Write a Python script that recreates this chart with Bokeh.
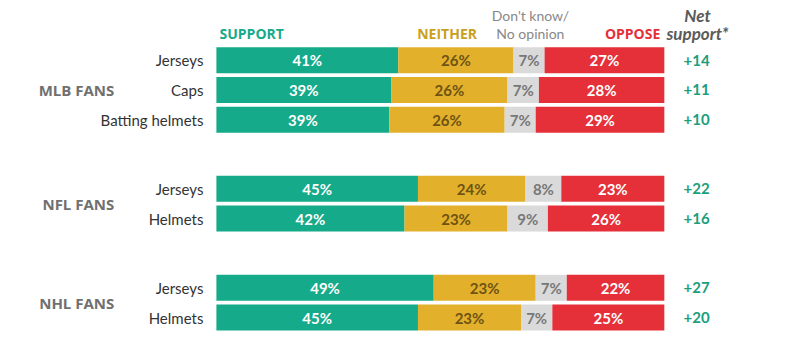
from bokeh.plotting import figure
from bokeh.models import ColumnDataSource, Range1d
from bokeh.core.properties import value
from bokeh.embed import file_html
from bokeh.resources import INLINE

groups = ["MLB FANS", "NFL FANS", "NHL FANS"]
group_of_row = [0, 0, 0, 1, 1, 2, 2]
items = ["Jerseys", "Caps", "Batting helmets", "Jerseys", "Helmets", "Jerseys", "Helmets"]
support = [41, 39, 39, 45, 42, 49, 45]
neither = [26, 26, 26, 24, 23, 23, 23]
dont_know = [7, 7, 7, 8, 9, 7, 7]
oppose = [27, 28, 29, 23, 26, 22, 25]
net_support = ["+14", "+11", "+10", "+22", "+16", "+27", "+20"]

series_names = ["SUPPORT", "NEITHER", "Don't know/\nNo opinion", "OPPOSE"]
series = [support, neither, dont_know, oppose]
fill_colors = ["#15aa89", "#e2b02b", "#dadada", "#e5303a"]
text_colors = ["#ffffff", "#6e5312", "#777777", "#ffffff"]

FONT = "Lato"
CAPS_FONT = "Open Sans"
GROUP_GAP = 1.33
BAR_H = 0.875

# layout positions of rows
ys = []
for i, g in enumerate(group_of_row):
    ys.append(i + g * GROUP_GAP)

W, H = 800, 350
p = figure(width=W, height=H, output_backend="svg", toolbar_location=None,
           x_range=Range1d(-48.2, 130.4), y_range=Range1d(9.77, -2.01),
           min_border=0, outline_line_color=None)
p.xaxis.visible = False
p.yaxis.visible = False
p.xgrid.visible = False
p.ygrid.visible = False
p.background_fill_color = "white"
p.border_fill_color = "white"

totals = [sum(s[i] for s in series) for i in range(len(items))]
cum = [0.0] * len(items)
for k, s in enumerate(series):
    left = [cum[i] for i in range(len(items))]
    right = [cum[i] + s[i] * 100.0 / totals[i] for i in range(len(items))]
    cum = right
    src = ColumnDataSource(dict(
        y=ys, left=left, right=right,
        mid=[(l + r) / 2 for l, r in zip(left, right)],
        label=[f"{v}%" for v in s]))
    p.hbar(y="y", left="left", right="right", height=BAR_H, source=src,
           fill_color=fill_colors[k], line_color=None)
    p.text(x="mid", y="y", text="label", source=src, text_align="center",
           text_baseline="middle", text_font=value(FONT), text_font_style="bold",
           text_font_size="15px", text_color=text_colors[k])

# row labels
p.text(x=[-2.9] * len(items), y=ys, text=items, text_align="right",
       text_baseline="middle", text_font=value(FONT), text_font_size="15px",
       text_color="#333333")

# group labels
gy = []
for g in range(len(groups)):
    rows = [ys[i] for i in range(len(items)) if group_of_row[i] == g]
    gy.append(sum(rows) / len(rows))
p.text(x=[-22.8] * len(groups), y=gy, text=groups, text_align="right",
       text_baseline="middle", text_font=value(CAPS_FONT), text_font_style="bold",
       text_font_size="15px", text_color="#707070")

# net support
p.text(x=[107.2] * len(items), y=ys, text=net_support, text_align="center",
       text_baseline="middle", text_font=value(FONT), text_font_style="bold",
       text_font_size="15px", text_color="#1a9e7c")

# headers
hy2 = -0.9
hy1 = -1.5
p.text(x=[0.7], y=[hy2], text=[series_names[0]], text_align="left",
       text_baseline="middle", text_font=value(CAPS_FONT), text_font_style="bold",
       text_font_size="14px", text_color="#15aa89")
p.text(x=[51.5], y=[hy2], text=[series_names[1]], text_align="center",
       text_baseline="middle", text_font=value(CAPS_FONT), text_font_style="bold",
       text_font_size="14px", text_color="#c9a01c")
dk = series_names[2].split("\n")
p.text(x=[70.1, 70.1], y=[hy1, hy2], text=dk, text_align="center",
       text_baseline="middle", text_font=value(FONT), text_font_size="14px",
       text_color="#888888")
p.text(x=[99.1], y=[hy2], text=[series_names[3]], text_align="right",
       text_baseline="middle", text_font=value(CAPS_FONT), text_font_style="bold",
       text_font_size="14px", text_color="#e5303a")
p.text(x=[107.4, 107.4], y=[hy1, hy2], text=["Net", "support*"], text_align="center",
       text_baseline="middle", text_font=value(FONT), text_font_style="bold italic",
       text_font_size="17px", text_color="#5a5a5a")

open("out.html", "w").write(file_html(p, INLINE))
